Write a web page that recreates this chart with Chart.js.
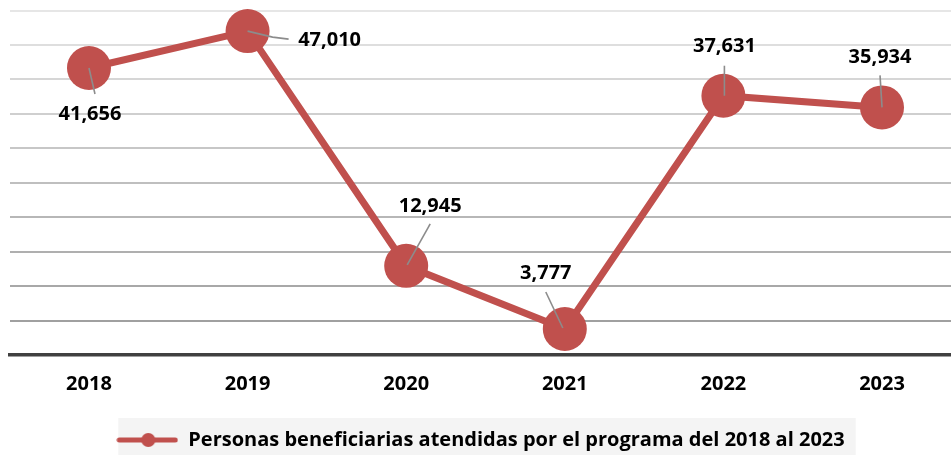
<!DOCTYPE html>
<html>
<head>
<meta charset="utf-8">
<script src="https://cdn.jsdelivr.net/npm/chart.js@4.4.1/dist/chart.umd.min.js"></script>
<style>
  html, body { margin: 0; padding: 0; background: #fff; }
  #wrap { width: 951px; height: 455px; }
</style>
</head>
<body>
<div id="wrap"><canvas id="chart"></canvas></div>
<script>
// data
const years = [2018, 2019, 2020, 2021, 2022, 2023];
const personas = [41656, 47010, 12945, 3777, 37631, 35934];
const seriesLabel = 'Personas beneficiarias atendidas por el programa del 2018 al 2023';

const RED = '#C0504D';
const FONT = '"Open Sans", Lato, sans-serif';

// label placement per point: label centre offset + leader line (from point, to end), in px
const labelPos = [
  { dx: 1,   dy: 46, lead: [[0, 0], [6, 26]] },
  { dx: 82,  dy: 9,  lead: [[0, 0], [25, 6], [41, 8]] },
  { dx: 24,  dy: -60, lead: [[1, -1], [24, -42]] },
  { dx: -19, dy: -56, lead: [[-2, -1], [-19, -37]] },
  { dx: 1,   dy: -49, lead: [[1, 0], [1, -30]] },
  { dx: -2,  dy: -50, lead: [[0, 0], [-2, -32]] }
];

// legend marker: line with a dot
function legendMarker() {
  const c = document.createElement('canvas');
  c.width = 62; c.height = 16;
  const g = c.getContext('2d');
  g.strokeStyle = RED; g.lineWidth = 5; g.lineCap = 'round';
  g.beginPath(); g.moveTo(3, 8); g.lineTo(59, 8); g.stroke();
  g.fillStyle = RED;
  g.beginPath(); g.arc(32, 8, 7, 0, Math.PI * 2); g.fill();
  return c;
}
const markerImg = legendMarker();

const pointLabels = {
  id: 'pointLabels',
  afterDatasetsDraw(chart) {
    const ctx = chart.ctx;
    const meta = chart.getDatasetMeta(0);
    ctx.save();
    meta.data.forEach((pt, i) => {
      const p = labelPos[i];
      ctx.strokeStyle = '#8c8c8c';
      ctx.lineWidth = 1.6;
      ctx.beginPath();
      p.lead.forEach(([lx, ly], k) => {
        if (k === 0) ctx.moveTo(pt.x + lx, pt.y + ly);
        else ctx.lineTo(pt.x + lx, pt.y + ly);
      });
      ctx.stroke();
      ctx.fillStyle = '#000';
      ctx.font = 'bold 20px ' + FONT;
      ctx.textAlign = 'center';
      ctx.textBaseline = 'middle';
      ctx.fillText(personas[i].toLocaleString('en-US'), pt.x + p.dx, pt.y + p.dy);
    });
    ctx.restore();
  }
};

// light grey panel behind the legend
const legendBg = {
  id: 'legendBg',
  beforeDraw(chart) {
    const lg = chart.legend;
    if (!lg || !lg.legendHitBoxes.length) return;
    const hb = lg.legendHitBoxes[0];
    const cy = hb.top + hb.height / 2;
    const ctx = chart.ctx;
    ctx.save();
    ctx.fillStyle = '#f4f4f4';
    ctx.fillRect(hb.left + 2, cy - 22, hb.width + 9, chart.height - cy + 22);
    ctx.restore();
  }
};

function gridShade(i) {
  // lighter toward the top, darker near the axis
  const t = i / 10;
  const v = Math.round(0x98 + (0xe6 - 0x98) * t);
  return `rgb(${v},${v},${v})`;
}

new Chart(document.getElementById('chart'), {
  type: 'line',
  data: {
    datasets: [{
      label: seriesLabel,
      data: years.map((y, i) => ({ x: y, y: personas[i] })),
      borderColor: RED,
      backgroundColor: RED,
      borderWidth: 7,
      pointRadius: 22,
      pointHoverRadius: 22,
      pointBackgroundColor: RED,
      pointBorderWidth: 0,
      tension: 0,
      clip: false
    }]
  },
  options: {
    responsive: true,
    maintainAspectRatio: false,
    animation: false,
    events: [],
    layout: { autoPadding: false, padding: { top: 10.5, left: 10, right: 0, bottom: -5 } },
    plugins: {
      tooltip: { enabled: false },
      legend: {
        position: 'bottom',
        labels: {
          usePointStyle: true,
          pointStyleWidth: 62,
          padding: 5,
          color: '#000',
          font: { family: FONT, size: 20, weight: 'bold' },
          generateLabels: chart => [{
            text: seriesLabel,
            pointStyle: markerImg,
            fillStyle: RED,
            strokeStyle: RED,
            lineWidth: 0,
            datasetIndex: 0
          }]
        }
      }
    },
    scales: {
      x: {
        type: 'linear',
        min: 2017.502,
        max: 2023.435,
        grid: { display: false, drawTicks: false },
        border: { display: true, color: '#404040', width: 3.5 },
        afterBuildTicks: axis => { axis.ticks = years.map(v => ({ value: v })); },
        afterFit: axis => { axis.height = 70; },
        ticks: {
          padding: 17,
          color: '#000',
          font: { family: FONT, size: 20, weight: 'bold' },
          callback: v => String(v)
        }
      },
      y: {
        min: 0,
        max: 50000,
        ticks: { display: false, stepSize: 5000 },
        afterFit: axis => { axis.width = 0; },
        border: { display: false },
        grid: {
          drawTicks: false,
          lineWidth: 2,
          color: ctx => gridShade(ctx.index)
        }
      }
    }
  },
  plugins: [legendBg, pointLabels]
});
</script>
</body>
</html>
